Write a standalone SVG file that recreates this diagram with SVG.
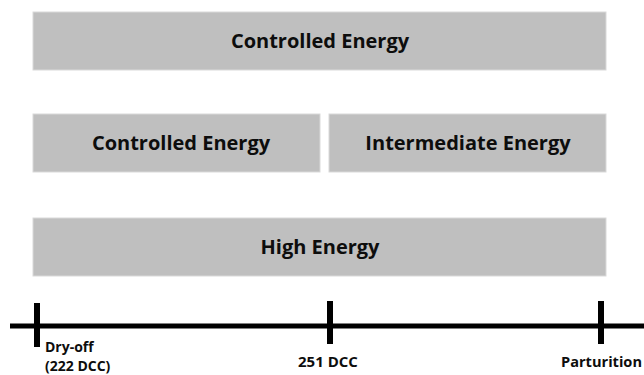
<svg xmlns="http://www.w3.org/2000/svg" width="644" height="375" viewBox="0 0 644 375">
<style>
.box{fill:#bfbfbf;stroke:#d9d9d9;stroke-width:1}
.bt{font-family:"Open Sans","Liberation Sans",sans-serif;font-weight:bold;font-size:20px;fill:#0d0d0d;text-anchor:middle}
.lt{font-family:"Open Sans","Liberation Sans",sans-serif;font-weight:bold;font-size:15px;fill:#0d0d0d}
.ls{font-family:"Open Sans","Liberation Sans",sans-serif;font-weight:bold;font-size:14px;fill:#0d0d0d}
.ln{stroke:#000;fill:none}
</style>
<rect width="644" height="375" fill="#fff"/>
<g id="node-controlled-top"><rect class="box" x="33" y="12" width="573" height="58"/><text class="bt" x="320" y="48">Controlled Energy</text></g>
<g id="node-controlled-left"><rect class="box" x="33" y="114" width="287" height="58"/><text class="bt" x="181" y="150">Controlled Energy</text></g>
<g id="node-intermediate"><rect class="box" x="329" y="114" width="277" height="58"/><text class="bt" x="468" y="150">Intermediate Energy</text></g>
<g id="node-high"><rect class="box" x="33" y="218" width="573" height="58"/><text class="bt" x="320" y="254">High Energy</text></g>
<g id="connectors">
<line class="ln" x1="10" y1="326" x2="644" y2="326" stroke-width="5"/>
<line class="ln" x1="37" y1="303" x2="37" y2="347" stroke-width="6"/>
<line class="ln" x1="330" y1="301" x2="330" y2="344" stroke-width="6"/>
<line class="ln" x1="601" y1="301" x2="601" y2="344" stroke-width="6"/>
</g>
<g id="labels">
<text class="ls" x="45" y="351.5">Dry-off</text>
<text class="ls" x="45" y="370.5">(222 DCC)</text>
<text class="lt" x="298" y="367">251 DCC</text>
<text class="lt" x="561" y="367" textLength="81" lengthAdjust="spacingAndGlyphs">Parturition</text>
</g>
</svg>
